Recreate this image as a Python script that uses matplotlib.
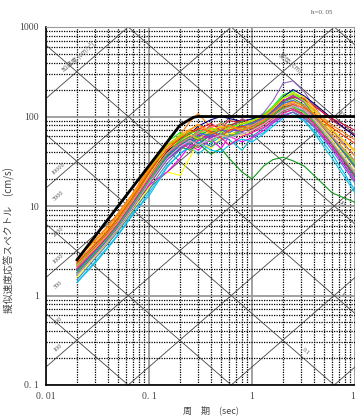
import numpy as np
import matplotlib.pyplot as plt
from matplotlib.ticker import LogLocator, NullFormatter

plt.rcParams['font.family'] = ['Liberation Serif', 'Noto Sans CJK JP']

# periods (sec) shared by all recorded spectra
periods = [0.02, 0.03, 0.04, 0.05, 0.07, 0.1, 0.12, 0.15, 0.2, 0.25, 0.3, 0.4,
           0.5, 0.6, 0.8, 1.0, 1.3, 1.6, 2.0, 2.5, 3.2, 4.0, 6.0, 10.0]

# pseudo velocity response (cm/s), one list per wave
s01 = [1.8, 3.0, 4.4, 6.0, 10.5, 19, 26, 36, 52, 48, 60, 72, 58, 66, 80, 70, 88, 110, 140, 150, 120, 95, 55, 30]
s02 = [2.6, 4.2, 6.0, 8.3, 14, 27, 36, 48, 62, 88, 108, 75, 70, 82, 68, 90, 95, 120, 160, 178, 150, 120, 80, 55]
s03 = [2.0, 3.3, 4.9, 6.8, 12, 24, 34, 52, 66, 55, 72, 60, 85, 76, 70, 92, 105, 130, 175, 190, 150, 100, 60, 32]
s04 = [2.2, 3.6, 5.1, 7.0, 12, 22, 29, 41, 55, 70, 62, 80, 75, 90, 85, 78, 100, 115, 150, 165, 160, 135, 90, 62]
s05 = [2.0, 3.2, 4.6, 6.4, 11, 20, 27, 38, 45, 58, 68, 55, 62, 70, 95, 85, 110, 150, 235, 250, 190, 130, 70, 36]
s06 = [1.7, 2.8, 4.0, 5.5, 9.5, 17, 23, 33, 44, 50, 45, 58, 66, 60, 72, 68, 80, 95, 115, 125, 105, 85, 48, 22]
s07 = [1.9, 3.1, 4.5, 6.2, 10.8, 20, 27, 35, 50, 62, 58, 68, 80, 74, 66, 80, 90, 105, 130, 140, 125, 92, 55, 28]
s08 = [1.8, 3.0, 4.3, 5.9, 10, 18, 24, 34, 42, 52, 60, 64, 56, 62, 70, 76, 84, 98, 112, 118, 100, 80, 45, 20]
s09 = [2.1, 3.4, 4.9, 6.7, 11.5, 22, 30, 42, 58, 52, 66, 72, 68, 60, 76, 82, 92, 112, 135, 128, 110, 86, 50, 24]
s10 = [1.4, 2.3, 3.4, 4.7, 8.0, 14, 19, 28, 38, 47, 38, 50, 60, 55, 42, 58, 66, 84, 100, 112, 90, 66, 34, 14]
s11 = [1.6, 2.7, 3.9, 5.3, 9.0, 16, 20, 24, 22, 35, 52, 44, 58, 66, 62, 70, 88, 100, 125, 145, 125, 95, 55, 26]
s12 = [2.3, 3.7, 5.3, 7.3, 11, 17, 20, 24, 34, 48, 42, 56, 44, 60, 52, 58, 70, 85, 100, 112, 95, 78, 45, 19]
s13 = [1.9, 3.1, 4.5, 6.1, 10.5, 19, 26, 36, 46, 42, 50, 38, 44, 34, 24, 20, 28, 33, 35, 32, 28, 22, 14, 11]
s14 = [2.0, 3.3, 4.8, 6.5, 11, 21, 29, 40, 56, 64, 78, 92, 100, 95, 88, 94, 104, 125, 165, 200, 170, 140, 95, 60]
s15 = [1.7, 2.9, 4.2, 5.7, 9.8, 18, 25, 35, 48, 56, 50, 62, 70, 82, 76, 72, 86, 104, 128, 135, 115, 88, 48, 21]
s16 = [1.5, 2.6, 3.8, 5.2, 8.8, 15, 21, 30, 43, 50, 56, 46, 54, 60, 66, 60, 74, 88, 104, 112, 96, 76, 42, 18]
s17 = [2.4, 3.9, 5.5, 7.6, 13, 25, 34, 46, 62, 72, 80, 70, 76, 68, 74, 86, 98, 118, 150, 168, 145, 115, 70, 42]
s18 = [2.1, 3.4, 4.8, 6.6, 11.5, 21, 28, 39, 52, 60, 54, 66, 72, 80, 88, 82, 96, 118, 145, 160, 135, 100, 58, 28]
s19 = [2.2, 3.5, 5.0, 6.9, 12, 23, 31, 42, 56, 64, 72, 84, 70, 78, 92, 86, 100, 124, 150, 165, 155, 130, 95, 70]
s20 = [1.8, 2.9, 4.3, 5.9, 10, 18, 24, 33, 44, 54, 62, 58, 66, 72, 68, 78, 92, 116, 150, 172, 145, 105, 60, 30]
s21 = [2.0, 3.3, 4.8, 6.6, 11.4, 22, 30, 43, 54, 62, 56, 70, 78, 72, 84, 90, 100, 122, 158, 185, 165, 125, 72, 40]
s22 = [1.4, 2.4, 3.5, 4.8, 8.3, 13, 18, 27, 39, 45, 52, 42, 40, 48, 56, 52, 64, 78, 96, 104, 90, 70, 38, 15]
s23 = [2.2, 3.6, 5.2, 7.1, 12.3, 24, 33, 47, 60, 68, 64, 74, 66, 76, 82, 88, 104, 128, 162, 180, 150, 108, 60, 30]
s24 = [2.0, 3.2, 4.6, 6.3, 11, 20, 28, 38, 50, 44, 54, 62, 58, 48, 60, 66, 76, 90, 108, 120, 104, 84, 48, 22]
s25 = [1.9, 3.1, 4.4, 6.1, 10.6, 19, 26, 37, 50, 58, 66, 60, 72, 66, 78, 84, 96, 112, 140, 152, 130, 100, 58, 27]
s26 = [2.3, 3.7, 5.3, 7.3, 12.6, 24, 32, 43, 58, 66, 74, 68, 60, 70, 78, 72, 84, 100, 124, 136, 125, 108, 75, 50]
s27 = [1.8, 3.0, 4.4, 6.0, 10.4, 19, 26, 38, 54, 66, 58, 52, 64, 58, 70, 76, 88, 104, 122, 130, 112, 88, 50, 23]
s28 = [2.1, 3.4, 4.9, 6.7, 11.6, 21, 28, 39, 50, 58, 66, 76, 84, 78, 70, 80, 92, 110, 132, 142, 122, 98, 60, 32]
s29 = [1.7, 2.8, 4.1, 5.6, 9.7, 18, 24, 34, 46, 54, 48, 56, 62, 58, 64, 70, 82, 98, 118, 132, 118, 92, 52, 24]
s30 = [2.6, 4.1, 5.8, 8.0, 13.6, 26, 35, 46, 58, 70, 82, 64, 72, 80, 70, 76, 90, 108, 132, 148, 132, 106, 65, 36]

spectra = [s01, s02, s03, s04, s05, s06, s07, s08, s09, s10, s11, s12, s13, s14, s15,
           s16, s17, s18, s19, s20, s21, s22, s23, s24, s25, s26, s27, s28, s29, s30]
colors = ['#1f77b4', '#ff7f0e', '#00ff00', '#d62728', '#9467bd', '#8c564b', '#e377c2',
          '#7f7f7f', '#bcbd22', '#17becf', '#ffff00', '#ff00ff', '#109618', '#000080',
          '#008080', '#4682b4', '#ffa500', '#2ca02c', '#dc143c', '#8a2be2', '#ffd700',
          '#00bfff', '#7fff00', '#ff1493', '#4169e1', '#ff4500', '#32cd32', '#fa8072',
          '#dda0dd', '#ff8c00']

# design (target) spectrum
design_T = [0.02, 0.2, 0.27, 0.3, 10.0]
design_Sv = [2.5, 80, 98, 100, 100]

# tripartite guide lines
acc_lines = [0.1, 1, 10, 100, 1000, 1e4, 1e5, 1e6]          # cm/s2
disp_lines = [1e-4, 1e-3, 1e-2, 0.1, 1, 10, 100, 1000]      # cm
acc_labels = [100, 200, 500, 1000, 2000, 5000, 10000]

fig = plt.figure(figsize=(3.55, 4.18), dpi=100)
ax = fig.add_axes([46 / 355, 33 / 418, 309 / 355, 358 / 418])
ax.set_xscale('log')
ax.set_yscale('log')
ax.set_xlim(0.01, 10)
ax.set_ylim(0.1, 1000)

ax.xaxis.set_minor_locator(LogLocator(base=10, subs=np.arange(2, 10)))
ax.yaxis.set_minor_locator(LogLocator(base=10, subs=np.arange(2, 10)))
ax.xaxis.set_minor_formatter(NullFormatter())
ax.yaxis.set_minor_formatter(NullFormatter())
ax.grid(which='minor', color='black', ls=(0, (1, 1)), lw=0.9, zorder=0)
ax.grid(which='major', color='#9a9a9a', ls='-', lw=1.3, zorder=0)
ax.set_axisbelow(True)

tt = np.array([0.01, 10.0])
for a in acc_lines:
    ax.plot(tt, a * tt / (2 * np.pi), color='#444444', lw=0.6, zorder=1)
for d in disp_lines:
    ax.plot(tt, 2 * np.pi * d / tt, color='#444444', lw=0.6, zorder=1)

lab_kw = dict(fontsize=4.5, color='#555555', ha='center', va='center', zorder=2)
for a in acc_labels:
    t0 = 0.0131
    ax.text(t0, a * t0 / (2 * np.pi) * 1.25, str(a), rotation=41, **lab_kw)
for d, t0 in [(0.1, 3.3), (1, 7.6), (10, 7.5), (100, 7.5)]:
    ax.text(t0, 2 * np.pi * d / t0 * 1.25, str(d), rotation=-41, **lab_kw)
ax.text(0.0205, 460, '加速度 (cm/s²)', rotation=41, fontsize=4.5, color='#666666',
        ha='center', va='center', family=['Noto Sans CJK JP', 'DejaVu Sans'])
ax.text(2.3, 390, '変位 (cm)', rotation=-41, fontsize=4.5, color='#666666',
        ha='center', va='center', family=['Noto Sans CJK JP', 'DejaVu Sans'])

for sv, c in zip(spectra, colors):
    ax.plot(periods, sv, color=c, lw=0.8, zorder=3)
ax.plot(design_T, design_Sv, color='black', lw=2.0, zorder=4)

ax.set_xticks([0.01, 0.1, 1, 10])
ax.set_xticklabels(['0. 01', '0. 1', '1', '10'])
ax.set_yticks([0.1, 1, 10, 100, 1000])
ax.set_yticklabels(['0. 1', '1', '10', '100', '1000'])
ax.tick_params(which='both', length=0, labelsize=7, colors='#444444', pad=5)
for s in ['left', 'bottom']:
    ax.spines[s].set_color('black')
    ax.spines[s].set_linewidth(1.2)
ax.spines['top'].set_color('#9a9a9a')
ax.spines['right'].set_visible(False)

jp = ['Noto Sans CJK JP', 'DejaVu Sans']
fig.text(211 / 355, 1 - 410 / 418, '周　期　(sec)', fontsize=6.5, color='#444444',
         ha='center', va='center', family=jp)
fig.text(9 / 355, 1 - 240 / 418, '擬似速度応答スペクトル　(cm/s)', rotation=90,
         fontsize=7, color='#444444', ha='center', va='center', family=jp)
fig.text(322 / 355, 1 - 13 / 418, 'h=0. 05', fontsize=5, color='#555555',
         ha='center', va='center')

fig.savefig('out.png', dpi=100)
